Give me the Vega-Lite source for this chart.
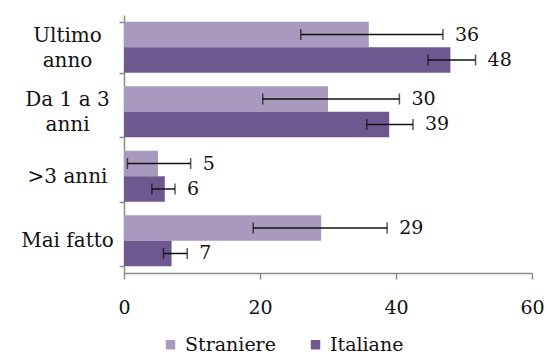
{
  "$schema": "https://vega.github.io/schema/vega-lite/v6.json",
  "autosize": {"type": "none"},
  "padding": {"left": 124, "top": 15, "right": 15, "bottom": 83},
  "width": 408,
  "height": 258,
  "background": "white",
  "config": {
    "view": {"stroke": null},
    "font": "DejaVu Serif"
  },
  "data": {
    "values": [
      {"cat": "Ultimo anno", "serie": "Straniere", "value": 36, "lo": 26, "hi": 46.9},
      {"cat": "Ultimo anno", "serie": "Italiane", "value": 48, "lo": 44.7, "hi": 51.7},
      {"cat": "Da 1 a 3 anni", "serie": "Straniere", "value": 30, "lo": 20.4, "hi": 40.5},
      {"cat": "Da 1 a 3 anni", "serie": "Italiane", "value": 39, "lo": 35.7, "hi": 42.5},
      {"cat": ">3 anni", "serie": "Straniere", "value": 5, "lo": 0.5, "hi": 9.8},
      {"cat": ">3 anni", "serie": "Italiane", "value": 6, "lo": 4.1, "hi": 7.5},
      {"cat": "Mai fatto", "serie": "Straniere", "value": 29, "lo": 19, "hi": 38.7},
      {"cat": "Mai fatto", "serie": "Italiane", "value": 7, "lo": 5.8, "hi": 9.3}
    ]
  },
  "encoding": {
    "y": {
      "field": "cat", "type": "nominal",
      "sort": ["Ultimo anno", "Da 1 a 3 anni", ">3 anni", "Mai fatto"],
      "scale": {"paddingInner": 0.21, "paddingOuter": 0.105},
      "axis": {
        "title": null,
        "domainColor": "#8c8c8c", "domainWidth": 1.5,
        "tickColor": "#8c8c8c", "tickWidth": 1.5, "tickSize": 5,
        "tickBand": "extent",
        "labelFontSize": 20, "labelColor": "#111111", "labelFont": "DejaVu Serif",
        "labelAlign": "center", "labelPadding": 52, "labelLineHeight": 25,
        "labelOffset": {"condition": {"test": "datum.value == 'Ultimo anno' || datum.value == 'Da 1 a 3 anni'", "value": -12}, "value": 0},
        "labelExpr": "datum.value == 'Ultimo anno' ? ['Ultimo', 'anno'] : datum.value == 'Da 1 a 3 anni' ? ['Da 1 a 3', 'anni'] : datum.value"
      }
    },
    "yOffset": {
      "field": "serie", "type": "nominal",
      "sort": ["Straniere", "Italiane"],
      "scale": {"paddingInner": 0, "paddingOuter": 0}
    }
  },
  "layer": [
    {
      "mark": {"type": "bar"},
      "encoding": {
        "x": {
          "field": "value", "type": "quantitative",
          "scale": {"domain": [0, 60]},
          "axis": {
            "title": null, "values": [0, 20, 40, 60], "grid": false,
            "domainColor": "#8c8c8c", "domainWidth": 1.5,
            "tickColor": "#8c8c8c", "tickWidth": 1.5, "tickSize": 6,
            "labelFontSize": 19, "labelColor": "#111111", "labelFont": "DejaVu Serif",
            "labelPadding": 19, "labelFlush": false
          }
        },
        "color": {
          "field": "serie", "type": "nominal",
          "sort": ["Straniere", "Italiane"],
          "scale": {"domain": ["Straniere", "Italiane"], "range": ["#A899BF", "#6E5890"]},
          "legend": {
            "title": null, "orient": "none", "direction": "horizontal",
            "legendX": 37, "legendY": 320,
            "symbolType": "square", "symbolSize": 90, "symbolStrokeWidth": 0,
            "labelFontSize": 19, "labelColor": "#111111", "labelFont": "DejaVu Serif",
            "columnPadding": 30, "labelOffset": 5
          }
        }
      }
    },
    {
      "mark": {"type": "rule", "color": "#111111", "strokeWidth": 1.5},
      "encoding": {
        "x": {"field": "lo", "type": "quantitative"},
        "x2": {"field": "hi"}
      }
    },
    {
      "mark": {"type": "tick", "color": "#111111", "thickness": 1.5, "size": 11, "orient": "vertical"},
      "encoding": {
        "x": {"field": "lo", "type": "quantitative"}
      }
    },
    {
      "mark": {"type": "tick", "color": "#111111", "thickness": 1.5, "size": 11, "orient": "vertical"},
      "encoding": {
        "x": {"field": "hi", "type": "quantitative"}
      }
    },
    {
      "mark": {"type": "text", "align": "left", "baseline": "middle", "dx": 12, "fontSize": 19, "color": "#111111", "font": "DejaVu Serif"},
      "encoding": {
        "x": {"field": "hi", "type": "quantitative"},
        "text": {"field": "value", "type": "quantitative"}
      }
    }
  ]
}
